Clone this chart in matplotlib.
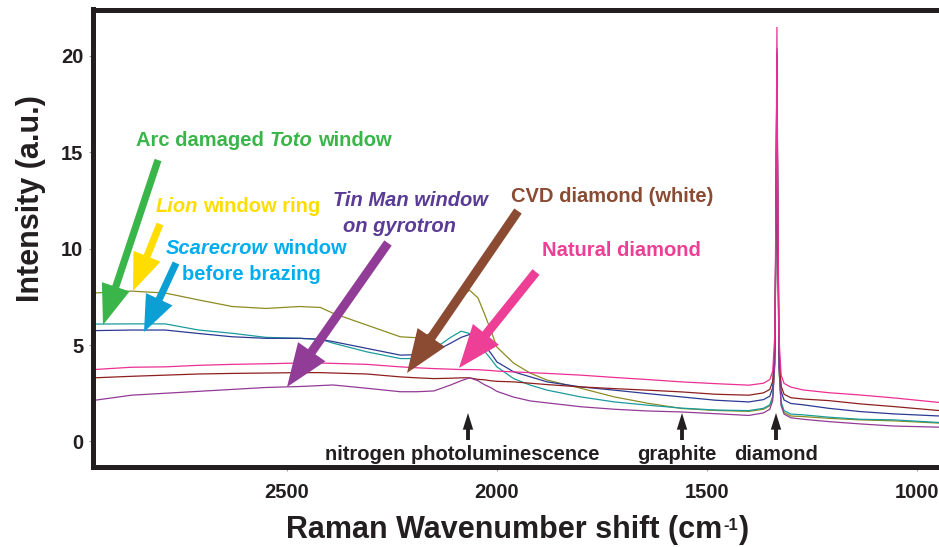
import matplotlib
matplotlib.use('Agg')
import matplotlib.pyplot as plt
from matplotlib.patches import FancyArrowPatch
from matplotlib.transforms import IdentityTransform

W, H = 939, 547
plt.rcParams['font.family'] = ['Liberation Sans', 'DejaVu Sans']

# ---------------- data ----------------
wavenumber = [2960, 2870, 2790, 2710, 2630, 2550, 2470, 2420, 2390, 2310,
              2230, 2190, 2150, 2110, 2085, 2065, 2045, 2030, 2015, 2000,
              1960, 1920, 1880, 1800, 1720, 1640, 1560, 1480, 1400, 1365,
              1350, 1343, 1338, 1335, 1333, 1331, 1328, 1323, 1316, 1300,
              1270, 1210, 1135, 1055, 945]

lion_ring = [7.7, 7.8, 7.7, 7.34, 7.0, 6.9, 7.0, 6.95, 6.65, 6.04,
             5.43, 5.38, 5.65, 6.7, 7.55, 7.85, 7.45, 6.65, 5.8, 4.9,
             4.06, 3.54, 3.18, 2.76, 2.31, 1.98, 1.71, 1.61, 1.56, 1.67,
             1.85, 2.28, 4.1, 11.4, 19.4, 11.0, 3.75, 1.93, 1.5, 1.32,
             1.29, 1.2, 1.12, 1.07, 0.95]

toto_window = [6.09, 6.1, 6.1, 5.78, 5.61, 5.4, 5.35, 5.3, 5.1, 4.65,
               4.3, 4.3, 4.8, 5.4, 5.72, 5.6, 5.2, 4.7, 4.3, 3.87,
               3.26, 2.92, 2.66, 2.31, 2.05, 1.88, 1.73, 1.63, 1.6, 1.72,
               1.9, 2.34, 4.2, 11.6, 19.7, 11.3, 3.9, 2.04, 1.6, 1.42,
               1.38, 1.26, 1.15, 1.12, 0.98]

scarecrow_window = [5.75, 5.78, 5.78, 5.6, 5.43, 5.35, 5.35, 5.3, 5.18, 4.83,
                    4.48, 4.5, 4.65, 5.1, 5.4, 5.55, 5.3, 5.0, 4.6, 4.13,
                    3.61, 3.35, 3.09, 2.83, 2.66, 2.48, 2.31, 2.14, 2.05, 2.17,
                    2.35, 2.79, 4.63, 12.1, 20.2, 11.9, 4.43, 2.59, 2.15, 1.97,
                    1.9, 1.72, 1.55, 1.43, 1.32]

natural_diamond = [3.73, 3.85, 3.87, 3.95, 4.0, 4.03, 4.07, 4.07, 4.05, 4.0,
                   3.87, 3.82, 3.78, 3.75, 3.73, 3.73, 3.72, 3.7, 3.68, 3.65,
                   3.61, 3.57, 3.53, 3.44, 3.32, 3.21, 3.09, 3.0, 2.92, 3.02,
                   3.21, 3.65, 5.55, 13.15, 21.5, 12.95, 5.35, 3.45, 3.01, 2.82,
                   2.67, 2.53, 2.41, 2.26, 2.02]

cvd_white = [3.3, 3.38, 3.44, 3.5, 3.53, 3.55, 3.57, 3.57, 3.55, 3.5,
             3.35, 3.3, 3.26, 3.28, 3.3, 3.3, 3.22, 3.2, 3.15, 3.12,
             3.09, 3.02, 2.95, 2.83, 2.74, 2.66, 2.57, 2.45, 2.4, 2.52,
             2.7, 3.12, 4.9, 12.1, 20.0, 11.85, 4.66, 2.87, 2.45, 2.27,
             2.2, 2.12, 1.95, 1.81, 1.6]

tin_man = [2.13, 2.4, 2.5, 2.6, 2.7, 2.8, 2.85, 2.9, 2.93, 2.76,
           2.58, 2.58, 2.62, 2.93, 3.15, 3.3, 3.15, 2.95, 2.8, 2.6,
           2.3, 2.1, 2.0, 1.8, 1.67, 1.58, 1.53, 1.44, 1.35, 1.48,
           1.67, 2.12, 4.06, 11.85, 20.4, 11.6, 3.81, 1.87, 1.42, 1.23,
           1.15, 1.03, 0.91, 0.8, 0.74]

x_ticks = [2500, 2000, 1500, 1000]
y_ticks = [0, 5, 10, 15, 20]

series = [
    (lion_ring, '#8c8c23'),
    (toto_window, '#1a9c9e'),
    (scarecrow_window, '#2b3a93'),
    (cvd_white, '#8e1f1f'),
    (tin_man, '#933a96'),
    (natural_diamond, '#ec2f92'),
]

# ---------------- figure ----------------
DARK = '#231f20'
fig = plt.figure(figsize=(W / 100, H / 100), dpi=100)
left, right, top, bottom = 92.5, 939, 9.5, 466.7
ax = fig.add_axes([left / W, (H - bottom) / H, (right - left) / W, (bottom - top) / H])

for vals, col in series:
    ax.plot(wavenumber, vals, color=col, lw=0.9, solid_joinstyle='miter')

ax.set_xlim(2963, 947)
ax.set_ylim(-1.31, 22.41)
ax.set_xticks(x_ticks)
ax.set_yticks(y_ticks)
ax.set_xticklabels([str(v) for v in x_ticks])
ax.set_yticklabels([str(v) for v in y_ticks])
ax.tick_params(direction='out', length=3, width=0.8, color='#9a9a9a',
               labelsize=14.5, labelcolor=DARK)
ax.tick_params(axis='x', pad=9)
ax.tick_params(axis='y', pad=3.5)
for lab in ax.get_xticklabels() + ax.get_yticklabels():
    lab.set_fontweight('bold')
for side in ('left', 'bottom', 'top'):
    ax.spines[side].set_linewidth(3.6)
    ax.spines[side].set_color(DARK)
ax.spines['right'].set_visible(False)

ID = IdentityTransform()


def P(x, y):
    return (x, H - y)


renderer = fig.canvas.get_renderer()

# y axis label
fig.text(*P(31, 198.5), 'Intensity (a.u.)', rotation=90, ha='center', va='center',
         fontsize=22, fontweight='bold', color=DARK, transform=ID)

# x axis label with small raised "-1"
xl_parts = [('Raman Wavenumber shift (cm', 22, 0), ('-1', 12, 8), (')', 22, 0)]
xl_objs = []
for s, fs, dy in xl_parts:
    t = fig.text(0, 0, s, fontsize=fs, fontweight='bold', color=DARK,
                 ha='left', va='baseline', transform=ID)
    xl_objs.append((t, dy))
xl_w = [t.get_window_extent(renderer).width for t, _ in xl_objs]
xx = 517.5 - (sum(xl_w) + 2) / 2
for (t, dy), w in zip(xl_objs, xl_w):
    t.set_position(P(xx, 538 - dy))
    xx += w + 1


def rich(pieces, cx, cy, color, size=14.5):
    objs = []
    for s, style in pieces:
        t = fig.text(0, 0, s, fontsize=size, fontweight='bold', fontstyle=style,
                     color=color, ha='left', va='center', transform=ID)
        objs.append(t)
    widths = [t.get_window_extent(renderer).width for t in objs]
    gap = 0.278 * size * 100 / 72
    total = sum(widths) + gap * (len(objs) - 1)
    x = cx - total / 2
    for t, w in zip(objs, widths):
        t.set_position(P(x, cy))
        x += w + gap


def arrow(tail, tip, color, hl=29, hw=21, tw=5.2):
    a = FancyArrowPatch(P(*tail), P(*tip), transform=ID,
                        arrowstyle=f'simple,head_length={hl},head_width={hw},tail_width={tw}',
                        mutation_scale=1, color=color, shrinkA=0, shrinkB=0, lw=0)
    fig.add_artist(a)


GREEN, YELLOW, CYAN_T, CYAN_A = '#3ab54a', '#ffdd00', '#00aeef', '#0b9fd4'
VIOLET_T, PURPLE_A, BROWN, PINK = '#5a3b95', '#913d97', '#8b4a32', '#ec3f95'

arrow((158, 160), (103, 325), GREEN)
arrow((160, 224), (133, 291), YELLOW, hl=27)
arrow((176, 263), (144, 332), CYAN_A, hl=26)
arrow((388, 243), (287, 387), PURPLE_A, hl=31, hw=24, tw=6.5)
arrow((518, 211), (407, 373), BROWN, hl=31, hw=24, tw=6.5)
arrow((536, 272), (459, 368), PINK, hl=31, hw=24, tw=6.5)

rich([('Arc damaged', 'normal'), ('Toto', 'italic'), ('window', 'normal')], 263.5, 141, GREEN)
rich([('Lion', 'italic'), ('window ring', 'normal')], 238, 207, YELLOW)
rich([('Scarecrow', 'italic'), ('window', 'normal')], 256, 249, CYAN_T)
rich([('before brazing', 'normal')], 251.5, 275, CYAN_T)
rich([('Tin Man window', 'italic')], 410.5, 200.7, VIOLET_T)
rich([('on gyrotron', 'italic')], 399.5, 226.7, VIOLET_T)
rich([('CVD diamond (white)', 'normal')], 612.5, 196, BROWN)
rich([('Natural diamond', 'normal')], 621.7, 250, PINK)

for xc in (468, 682, 776):
    arrow((xc, 440), (xc, 413), DARK, hl=12, hw=7.5, tw=2.8)
rich([('nitrogen photoluminescence', 'normal')], 462, 455, DARK)
rich([('graphite', 'normal')], 677, 455, DARK)
rich([('diamond', 'normal')], 776, 455, DARK)

fig.savefig('out.png', dpi=100)
